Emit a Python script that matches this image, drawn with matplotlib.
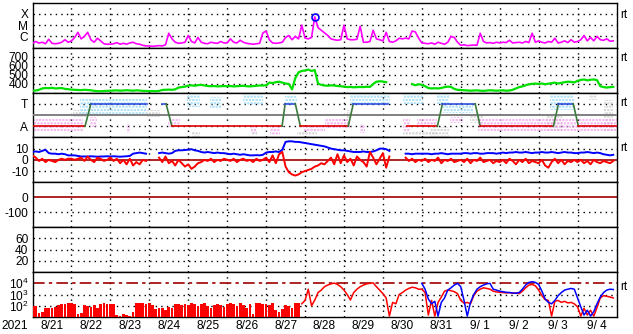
import numpy as np
import matplotlib
matplotlib.use("Agg")
import matplotlib.pyplot as plt

plt.rcParams['font.family'] = ['Liberation Sans', 'DejaVu Sans']
plt.rcParams['mathtext.fontset'] = 'custom'
plt.rcParams['mathtext.rm'] = 'Liberation Sans'
plt.rcParams['mathtext.default'] = 'regular'
plt.rcParams['hatch.linewidth'] = 1.2

# ---- data (2-hourly samples, 2021-08-21 00UT .. 2021-09-04 24UT) ----
year_label = "2021"
day_labels = ["8/21", "8/22", "8/23", "8/24", "8/25", "8/26", "8/27", "8/28",
              "8/29", "8/30", "8/31", "9/ 1", "9/ 2", "9/ 3", "9/ 4"]

# GOES X-ray flux in units of 1e-7 W/m2 (B1 = 1)
xray_b = [
    2.4, 3.5, 2.5, 3.0, 2.2, 5.5, 2.4, 2.2, 2.4, 3.0, 5.0, 3.0,
    4.0, 8.0, 23, 6.0, 10, 23, 5.0, 3.0, 6.8, 4.0, 2.2, 2.0,
    2.0, 2.2, 2.8, 2.0, 2.4, 2.0, 2.6, 3.0, 2.2, 2.0, 1.6, 1.4,
    1.4, 1.3, 1.4, 1.5, 1.4, 1.8, 19, 6.0, 3.0, 2.4, 2.6, 3.0,
    12, 3.5, 2.6, 8.0, 3.0, 2.4, 2.2, 3.0, 2.6, 2.4, 3.5, 2.6,
    2.6, 6.0, 3.0, 2.6, 4.5, 3.0, 2.4, 2.2, 2.0, 2.2, 2.4, 20,
    30, 5.0, 2.6, 2.4, 2.6, 3.0, 8.0, 12, 5.0, 10, 6.0, 100,
    7.0, 6.0, 8.0, 550, 60, 35, 20, 12, 6.0, 5.0, 4.5, 5.0,
    100, 6.0, 5.0, 5.0, 5.5, 80, 3.0, 3.0, 3.5, 35, 6.0, 5.0,
    4.0, 23, 3.5, 3.0, 4.0, 6.8, 6.0, 7.0, 6.0, 30, 25, 7.0,
    2.6, 2.4, 2.2, 2.6, 2.0, 3.0, 2.4, 2.0, 3.0, 10, 8.0, 3.0,
    1.6, 1.8, 1.5, 1.6, 1.7, 1.6, 19, 3.5, 2.6, 2.8, 2.4, 3.0,
    2.6, 3.0, 2.8, 4.5, 2.6, 2.8, 3.0, 2.6, 3.5, 2.8, 19, 3.0,
    4.0, 3.0, 2.6, 3.5, 3.0, 6.8, 2.6, 3.0, 4.0, 2.8, 5.0, 3.0,
    3.5, 5.0, 12, 4.0, 8.0, 4.0, 10, 5.0, 4.5, 6.0, 3.7, 4.0,
]
flare_day = 7.26          # M-class flare peak, 8/28 ~06 UT
flare_peak_b = 550

# solar wind speed, km/s
speed = [
    320, 322, 330, 345, 350, 348, 352, 345, 348, 350, 340, 337,
    332, 330, 328, 326, 330, 328, 325, 318, 315, 314, 316, 318,
    320, 322, 324, 320, 322, 325, 322, 320, 324, 322, 318, 316,
    315, 316, 314, 318, 328, 330, 332, 330, 335, 355, 360, 365,
    378, 380, 375, 382, 385, 378, 372, 370, 372, 368, 370, 372,
    370, 372, 368, 370, 372, 375, 370, 368, 372, 375, 378, 378,
    380, 410, 405, 415, 420, 410, 400, 395, 335, 460, 525, 540,
    545, 555, 540, 550, 400, 385, 378, 375, 380, 378, 372, 370,
    365, 360, 362, 358, 360, 362, 360, 364, 362, 395, 420, 425,
    422, 415, np.nan, np.nan, np.nan, np.nan, np.nan, np.nan, np.nan, 395, 380, 392,
    385, 370, 350, 345, 348, 345, 350, 360, 365, 362, 340, 330,
    328, 325, 322, 320, 322, 324, 320, 318, 322, 325, 322, 320,
    322, 324, 320, 322, 330, 345, 360, 368, 380, 392, 396, 400,
    395, 400, 392, 398, 405, 410, 400, 408, 415, 420, 418, 412,
    430, 440, 445, 435, 442, 445, 438, 370, 360, 355, 360, 362,
]

# sector polarity model: breakpoints (day, +1 = T, -1 = A)
pol_day = [0.0, 1.35, 1.50, 2.94, 3.10, 3.32, 3.43, 3.58, 6.41, 6.49, 6.75, 6.88,
           8.11, 8.24, 9.14, 9.40, 9.62, 10.40, 10.53, 11.37, 11.50, 13.38, 13.51,
           13.89, 14.02, 15.0]
pol_val = [-1, -1, 1, 1, np.nan, 1, 1, -1, -1, 1, 1, -1,
           -1, 1, 1, np.nan, -1, -1, 1, 1, -1, -1, 1,
           1, -1, -1]

# observed polarity clouds: (day start, day end, low, high)
cloud_toward = [(1.22, 2.94, 0.1, 1.5), (3.97, 4.31, 0.7, 1.9), (4.55, 4.85, 0.5, 1.6),
                (5.40, 5.93, 0.9, 1.9), (6.49, 6.80, 0.9, 1.7), (8.16, 9.19, 1.0, 1.9),
                (9.52, 10.04, 1.0, 1.9), (10.40, 10.70, 1.0, 1.9), (10.55, 11.32, 0.2, 1.0),
                (13.30, 13.90, 0.4, 1.9)]
cloud_away = [(0.0, 1.30, -1.4, -0.4), (1.48, 1.66, -1.1, -0.2), (2.42, 2.50, -1.6, -0.8),
              (3.48, 3.79, -1.1, -0.3), (5.60, 5.77, -1.6, -1.1), (6.10, 6.36, -1.8, -1.1),
              (6.95, 7.50, -1.5, -0.9), (7.50, 8.16, -1.2, -0.4), (8.42, 8.55, -1.6, -0.8),
              (9.52, 9.70, -1.4, -0.3), (9.88, 10.40, -1.1, -0.3), (10.73, 11.07, -0.75, -0.2),
              (11.43, 15.0, -1.4, -0.3)]
cloud_mixed = [(1.04, 1.40, -0.2, 0.4), (2.94, 3.28, -0.2, 0.4), (4.10, 4.31, -2.0, -1.4),
               (5.60, 5.77, -1.8, -1.4), (6.80, 7.31, -1.8, -1.5), (8.08, 8.16, -1.1, 0.4),
               (9.52, 10.40, -1.8, -1.4), (10.20, 10.70, -2.0, -1.1), (11.25, 11.58, -0.7, 0.1),
               (13.20, 13.60, -1.4, 0.1), (14.30, 14.50, 1.3, 1.9), (14.67, 14.92, -1.4, 1.3)]

# IMF Bt and Bz, nT
bt = [
    7, 7.5, 7, 8, 9, 6, 5.5, 5.5, 5, 5.5, 5, 4,
    4, 4, 3.5, 3, 3, 3, 3.2, 3, 2.8, 3, 3, 3.2,
    3, 3.2, 3, 2.8, 3, 3.2, 3.5, 5.5, 6, 6.5, 6, 5.5,
    np.nan, np.nan, np.nan, 6, 6.5, 6, 5.5, 6, 8, 8.5, 8.5, 8.8,
    9, 9.5, 8.5, 8, 7, 6.5, 7, 6.5, 6, 6.5, 6, 6,
    5.5, 5, 5.5, 5, 4.5, 5, 4.5, 4, 4, 4.2, 4, 4.5,
    6.5, 7, 7, 7.5, 7, 9, 16, 16.5, 16.5, 16, 16, 15.5,
    15, 14.5, 14, 13.5, 13, 12.5, 12, 11, 10, 9.5, 9, 8.5,
    8.5, 8, 7.5, 7, 7, 7, 7.5, 7, 7, 7.5, 8.5, 10,
    10, 9.5, 8, np.nan, np.nan, np.nan, np.nan, 5.5, 5.5, 5, 5.5, 5.5,
    5.5, 5.5, 5.5, 5, 5.5, 5.5, 6, 5.5, 5, 5.5, 5.5, 5.5,
    5.5, 6, 6, 5.5, 6, 6, 5.5, 5.5, 6, 6, 6, 5.5,
    6, 6.5, 6, 6.5, 6.5, 7, 6.5, 6.5, 7, 6.5, 6, 6.5,
    6.5, 7, 6.5, 6.5, 7, 6.5, 6, 6.5, 7, 6.5, 6.5, 6,
    6, 6.5, 6.5, 7, 6.5, 6, 6.5, 6, 5, 4.5, 4, 4.5,
]
bz = [
    4, 2, -1, 1, -2, 0, -1, -2, 0, 1, 0, 1,
    1, 0, 1, 2, -1, 3, 0, -2, 2, 1, -1, 0,
    2, -1, 1, -3, 0, -4, 1, -5, -2, -4, 0, -1,
    np.nan, np.nan, np.nan, 2, -2, 3, -3, -1, -5, 0, -3, -6,
    -4, -8, -6, -3, -2, 0, -1, 1, -2, 0, -1, 1,
    0, -1, 1, -2, 0, 1, -1, 0, -2, 1, -1, 0,
    2, -2, 4, -3, 5, 7, -6, -11, -13, -14, -13, -11,
    -10, -9, -8, -6, -5, -3, -4, -1, 2, -4, 5, -3,
    4, -2, 1, -5, 3, 0, -2, -6, 7, 2, -4, 1,
    6, -7, 3, np.nan, np.nan, np.nan, np.nan, 2, -1, 1, -2, 0,
    -1, 1, -2, 0, -1, 2, -3, 0, -1, 1, -2, -1,
    0, -2, 1, -3, 0, -1, 2, -2, -1, 0, -3, -1,
    -2, 0, -3, 1, -1, -4, 0, -2, 1, -3, -1, -2,
    -3, 0, -5, -7, -2, 1, -3, 0, -4, -1, -2, 0,
    -2, 0, -3, -1, -4, 0, -2, -3, -1, -2, -3, -1,
]

# >2 MeV electron flux, two satellites
elec_a = [
    95, 100, 25, 30, 70, 63, 60, 80, 120, 140, 130, 160,
    170, 150, 20, 25, 110, 95, 80, 120, 60, 150, 160, 140,
    150, 130, 15, 12, 20, 15, 12, 30, 160, 180, 170, 150,
    170, 120, 50, 70, 60, 45, 80, 70, 130, 150, 120, 140,
    120, 160, 150, 90, 130, 170, 100, 60, 120, 150, 110, 80,
    130, 160, 140, 100, 170, 120, 60, 150, 20, 170, 160, 140,
    150, 120, 160, 40, 30, 50, 110, 90, 60, 160, 170, 150,
    300, 3000, 100, 320, 1500, 2500, 5000, 7000, 9000, 10500, 8000, 5000,
    2500, 1000, 330, 1500, 3000, 5000, 7000, 9000, 10000, 11000, 5000, 2500,
    1200, 500, 12, 200, 150, 1000, 1500, 2500, 3500, 4500, 4000, 3000,
    3000, 1500, 15, 300, 12, 200, 600, 2000, 2500, 2200, 1800, 1200,
    300, 170, 200, 150, 800, 2000, 3000, 4000, 3500, 3000, 2000, 1700,
    1600, 1500, 1400, 1500, 1300, 1400, 1200, 2000, 4000, 7000, 8000, 6000,
    2500, 800, 350, 300, 12, 250, 300, 200, 250, 180, 200, 150,
    80, 12, 60, 15, 40, 12, 70, 500, 800, 700, 600, 500,
]
elec_b = [np.nan] * 120 + [
    10000, 3000, 400, 150, 250, 12, 200, 500, 2500, 4000, 7000, 10000,
    5000, 300, 12, 200, 1000, 3000, 5000, 7000, 9000, 10000, 3000, 2500,
    2000, 1800, 1600, 1500, 1400, 1300, 1500, 3000, 7000, 12000, 14000, 12000,
    8000, 2000, 400, 200, 150, 300, 800, 1500, 2500, 3000, 3500, 3000,
    500, 80, 15, 40, 12, 30, 150, 600, 1500, 2500, 3000, 2800,
]
elec_alert = 1e4
fill_until_day = 6.85


def main():
    n = len(xray_b)
    t = np.arange(n) / 12.0
    dot = (0, (1, 3))
    dark_red = '#a00000'
    fs = 8.6

    fig = plt.figure(figsize=(6.33, 3.34), dpi=100)
    left, right = 32.5 / 633, 616.5 / 633
    top, bot = 1 - 2.7 / 334, 1 - 317 / 334
    h = (top - bot) / 7
    axes = [fig.add_axes([left, top - (i + 1) * h, right - left, h]) for i in range(7)]
    ax_x, ax_v, ax_p, ax_b, ax_d, ax_k, ax_e = axes

    for ax in axes:
        ax.set_xlim(0, 15)
        ax.set_xticks([])
        ax.tick_params(axis='both', length=0, pad=3, labelsize=fs)
        for s in ax.spines.values():
            s.set_linewidth(1.0)
            s.set_color('black')
        for d in range(1, 15):
            ax.axvline(d, color='black', lw=1, ls=dot, zorder=1)

    # X-ray
    ax_x.set_yscale('log')
    ax_x.set_ylim(1e-7, 1e-3)
    for lev in (1e-4, 1e-5, 1e-6):
        ax_x.axhline(lev, color='black', lw=1, ls=dot, zorder=1)
    ax_x.plot(t, np.array(xray_b) * 1e-7, color='#ff00ff', lw=1.2, zorder=3)
    ax_x.plot([flare_day], [flare_peak_b * 1e-7], 'o', mfc='none', mec='#0000ff',
              ms=5, mew=1.2, zorder=4)
    ax_x.set_yticks([1e-4, 1e-5, 1e-6], ['X', 'M', 'C'])
    ax_x.yaxis.set_minor_locator(plt.NullLocator())

    # solar wind speed
    ax_v.set_ylim(300, 800)
    for lev in (400, 500, 600, 700):
        ax_v.axhline(lev, color='black', lw=1, ls=dot, zorder=1)
    ax_v.plot(t, speed, color='#00e000', lw=1.6, zorder=3)
    ax_v.set_yticks([700, 600, 500, 400], ['700', '600', '500', '400'])

    # polarity
    ax_p.set_ylim(-2, 2)
    for lev in (1, -1):
        ax_p.axhline(lev, color='black', lw=1, ls=dot, zorder=1)
    for group, col in ((cloud_mixed, '#cccccc'), (cloud_away, '#f2a6ee'),
                       (cloud_toward, '#9adaf6')):
        for d0, d1, lo, hi in group:
            ax_p.fill_between([d0, d1], lo, hi, facecolor='none', edgecolor=col,
                              hatch='.....', lw=0, zorder=2)
    ax_p.axhline(0, color='#808080', lw=1.4, zorder=3)
    for i in range(len(pol_day) - 1):
        v0, v1 = pol_val[i], pol_val[i + 1]
        if np.isnan(v0) or np.isnan(v1):
            continue
        if v0 == v1 == -1:
            col = '#e00000'
        elif v0 == v1 == 1:
            col = '#3050e0'
        else:
            col = '#3c7a3c'
        ax_p.plot(pol_day[i:i + 2], [v0, v1], color=col, lw=1.2, zorder=4)
    ax_p.set_yticks([1, -1], ['T', 'A'])

    # IMF
    ax_b.set_ylim(-20, 20)
    for lev in (10, -10):
        ax_b.axhline(lev, color='black', lw=1, ls=dot, zorder=1)
    ax_b.axhline(0, color=dark_red, lw=1.2, zorder=2)
    ax_b.plot(t, bt, color='#0000ff', lw=1.4, zorder=3)
    ax_b.plot(t, bz, color='#ff0000', lw=1.4, zorder=4)
    ax_b.set_yticks([10, 0, -10], ['10', '0', '-10'])

    # Dst (no data)
    ax_d.set_ylim(-200, 100)
    ax_d.axhline(-100, color='black', lw=1, ls=dot, zorder=1)
    ax_d.axhline(0, color=dark_red, lw=1.2, zorder=2)
    ax_d.set_yticks([0, -100], ['0', '-100'])

    # empty panel
    ax_k.set_ylim(0, 80)
    for lev in (20, 40, 60):
        ax_k.axhline(lev, color='black', lw=1, ls=dot, zorder=1)
    ax_k.set_yticks([60, 40, 20], ['60', '40', '20'])

    # electrons
    ax_e.set_yscale('log')
    ax_e.set_ylim(10, 1e5)
    for lev in (1e2, 1e3):
        ax_e.axhline(lev, color='black', lw=1, ls=dot, zorder=1)
    ax_e.axhline(elec_alert, color=dark_red, lw=1.2, ls=(0, (7, 2.5, 2, 2.5)), zorder=2)
    ea = np.array(elec_a, dtype=float)
    early = t <= fill_until_day
    ax_e.bar(t[early], ea[early] - 10, bottom=10, width=0.07, color='#ff0000',
             lw=0, zorder=3)
    ax_e.plot(t[~early], ea[~early], color='#ff0000', lw=1.1, zorder=3)
    ax_e.plot(t, elec_b, color='#0000ff', lw=1.1, zorder=4)
    ax_e.set_yticks([1e4, 1e3, 1e2], [r'$10^4$', r'$10^3$', r'$10^2$'])
    ax_e.yaxis.set_minor_locator(plt.NullLocator())
    ax_e.set_xticks(np.arange(15) + 0.5, day_labels)
    ax_e.tick_params(axis='x', length=0, pad=2)

    fig.text(15 / 633, 1 - 326 / 334, year_label, ha='center', va='center', fontsize=fs)

    # realtime markers
    for ax, dy in ((ax_x, 12), (ax_v, 10), (ax_p, 11), (ax_b, 11), (ax_e, 15)):
        ax.text(1.006, 1 - dy / 45.0, 'rt', transform=ax.transAxes,
                ha='left', va='center', fontsize=fs)

    fig.savefig('out.png', dpi=100)


if __name__ == "__main__":
    main()
